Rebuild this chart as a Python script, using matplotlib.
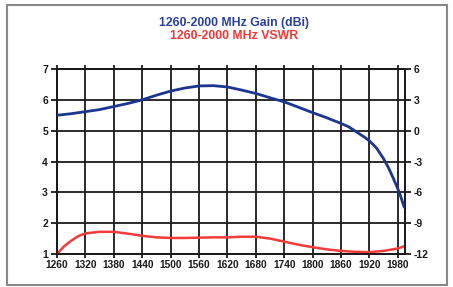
import matplotlib
matplotlib.use("Agg")
import matplotlib.pyplot as plt

plt.rcParams["axes.unicode_minus"] = False

freq_gain = [1260, 1290, 1320, 1350, 1380, 1410, 1440, 1470, 1500, 1530, 1560, 1590,
             1620, 1650, 1680, 1710, 1740, 1770, 1800, 1830, 1860, 1875, 1887, 1900,
             1910, 1920, 1935, 1950, 1960, 1970, 1983, 1993]
gain_dbi = [1.5, 1.65, 1.85, 2.05, 2.35, 2.65, 3.0, 3.45, 3.85, 4.15, 4.35, 4.38,
            4.25, 3.95, 3.62, 3.2, 2.8, 2.28, 1.75, 1.25, 0.7, 0.4, 0.05, -0.35,
            -0.65, -1.0, -1.7, -2.75, -3.6, -4.6, -6.0, -7.4]

freq_vswr = [1260, 1275, 1290, 1305, 1320, 1350, 1380, 1410, 1440, 1470, 1500,
             1530, 1560, 1590, 1620, 1650, 1680, 1710, 1740, 1770, 1800, 1830, 1860,
             1890, 1920, 1950, 1980, 1993]
vswr = [1.0, 1.25, 1.43, 1.58, 1.67, 1.72, 1.72, 1.66, 1.59, 1.54, 1.52,
        1.52, 1.53, 1.54, 1.54, 1.56, 1.56, 1.50, 1.40, 1.30, 1.22, 1.15, 1.10,
        1.07, 1.06, 1.10, 1.18, 1.25]

x_ticks = list(range(1260, 1981, 60))
left_ticks = [1, 2, 3, 4, 5, 6, 7]
right_ticks = [-12, -9, -6, -3, 0, 3, 6]

title_gain = "1260-2000 MHz Gain (dBi)"
title_vswr = "1260-2000 MHz VSWR"

blue = "#1c3591"
red = "#f53a3a"
ink = "#1a1a1a"

fig = plt.figure(figsize=(4.53, 2.87), dpi=100)
fig.patch.set_facecolor("white")
ax = fig.add_axes([57/453, 1-254/287, (405-57)/453, (254-69)/287])
ax2 = ax.twinx()

ax.set_xlim(1260, 1995)
ax.set_ylim(1, 7)
ax2.set_ylim(-12, 6)
ax.set_xticks(x_ticks)
ax.set_yticks(left_ticks)
ax2.set_yticks(right_ticks)

ax.grid(True, color=ink, linewidth=1.3)
for a in (ax, ax2):
    for s in a.spines.values():
        s.set_color(ink)
        s.set_linewidth(1.3)

ax.tick_params(axis="x", which="both", direction="out", length=3, width=1.3,
               top=True, bottom=True, labelsize=7.3, pad=1.5, colors=ink)
ax.tick_params(axis="y", direction="out", length=4, width=1.3, labelsize=7.5,
               pad=2.5, colors=ink)
ax2.tick_params(axis="y", direction="out", length=4, width=1.3, labelsize=7.5,
                pad=2.5, colors=ink)
for lab in ax.get_xticklabels() + ax.get_yticklabels() + ax2.get_yticklabels():
    lab.set_fontweight("bold")
    lab.set_fontfamily("Liberation Sans")

ax.plot(freq_vswr, vswr, color=red, linewidth=1.8, zorder=5)
ax2.plot(freq_gain, gain_dbi, color=blue, linewidth=2.0, zorder=5,
         solid_joinstyle="round")

fig.text(234/453, 1-23/287, title_gain, color="#2a3f9e", fontsize=8.8,
         fontweight="bold", ha="center", va="center", family="Liberation Sans")
fig.text(234/453, 1-36/287, title_vswr, color="#f03a3a", fontsize=8.8,
         fontweight="bold", ha="center", va="center", family="Liberation Sans")

border = plt.Rectangle((7/453, 1-285/287), (447-7)/453, (285-5)/287,
                       transform=fig.transFigure, fill=False,
                       edgecolor="#888888", linewidth=1.5)
fig.patches.append(border)

fig.savefig("out.png", dpi=100)
